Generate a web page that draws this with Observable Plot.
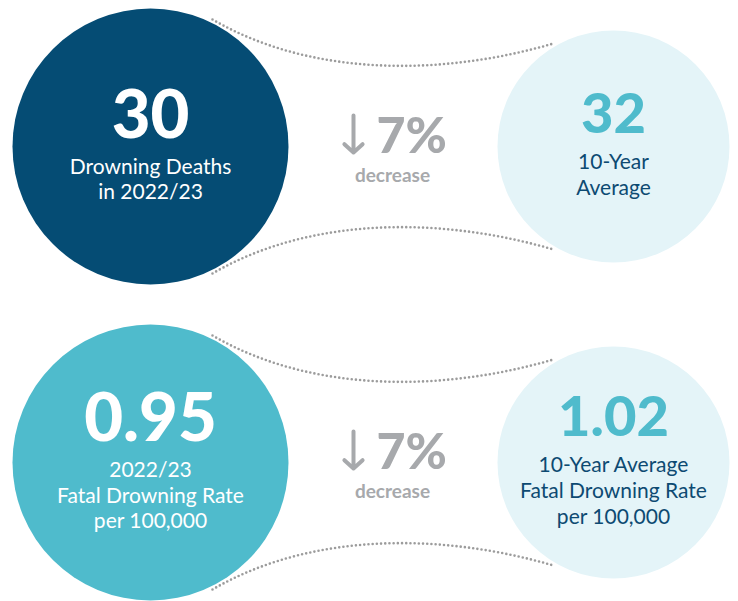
<!DOCTYPE html>
<html>
<head>
<meta charset="utf-8">
<script src="https://cdn.jsdelivr.net/npm/d3@7"></script>
<script src="https://cdn.jsdelivr.net/npm/@observablehq/plot@0.6"></script>
<style>
  html, body { margin: 0; padding: 0; background: #ffffff; }
  #chart svg { display: block; }
</style>
</head>
<body>
<div id="chart"></div>
<script>
// ---- data ----
const metrics = ["Drowning Deaths", "Fatal Drowning Rate"];
const currentValues = ["30", "0.95"];
const currentLabels = [["Drowning Deaths", "in 2022/23"], ["2022/23", "Fatal Drowning Rate", "per 100,000"]];
const averageValues = ["32", "1.02"];
const averageLabels = [["10-Year", "Average"], ["10-Year Average", "Fatal Drowning Rate", "per 100,000"]];
const changeValues = ["7%", "7%"];
const changeWords = ["decrease", "decrease"];

// ---- layout ----
const W = 738, H = 601;
const rowCenters = [146, 462];
const bigX = 150, bigR = 138;
const smallX = 613, smallR = 116;
const midX = 392;
const C = {
  dark: "#054c74", teal: "#4fbbcc", light: "#e4f4f8", gray: "#a7a9ac",
  label: "#0d4a72", dots: "#9c9c9c"
};
const FONT = "Lato, 'Noto Sans', sans-serif";

const rows = metrics.map((m, i) => ({
  metric: m, row: i,
  current: currentValues[i], currentLabels: currentLabels[i],
  average: averageValues[i], averageLabels: averageLabels[i],
  change: changeValues[i], word: changeWords[i]
}));

// text blocks inside circles
const numbers = [], labels = [];
function block(d, cx, value, lines, capNum, numSize, gap, lh, numColor, lblColor) {
  const cy = rowCenters[d.row];
  const n = lines.length;
  const h = capNum + gap + (n - 1) * lh;
  const base = cy - 3 - h / 2 + capNum;
  numbers.push({metric: d.metric, x: cx, y: base, text: value, size: numSize, color: numColor});
  lines.forEach((l, j) => labels.push({metric: d.metric, x: cx, y: base + gap + j * lh, text: l, color: lblColor}));
}
rows.forEach(d => {
  block(d, bigX, d.current, d.currentLabels, 50, 67, 36, 25.5, "#ffffff", "#ffffff");
  block(d, smallX, d.average, d.averageLabels, 41, 56, 35.5, 26, C.teal, C.label);
});

// dotted connectors: cubic bezier between the two circles
const conn = {p0: [212, -127], p1: [310, -70], p2: [440, -70], p3: [553, -103]};
const connectors = [];
rows.forEach(d => {
  const cy = rowCenters[d.row];
  for (const side of [1, -1]) {
    const key = d.metric + (side > 0 ? " top" : " bottom");
    for (let k = 0; k <= 80; k++) {
      const t = k / 80, u = 1 - t;
      const b = [u*u*u, 3*u*u*t, 3*u*t*t, t*t*t];
      const x = b[0]*conn.p0[0] + b[1]*conn.p1[0] + b[2]*conn.p2[0] + b[3]*conn.p3[0];
      const y = b[0]*conn.p0[1] + b[1]*conn.p1[1] + b[2]*conn.p2[1] + b[3]*conn.p3[1];
      connectors.push({key, x, y: cy + side * y});
    }
  }
});

const chart = Plot.plot({
  width: W, height: H,
  margin: 0,
  x: {domain: [0, W], range: [0, W], axis: null},
  y: {domain: [0, H], range: [0, H], axis: null},
  r: {type: "identity"},
  style: {background: "#ffffff", fontFamily: FONT},
  marks: [
    Plot.line(connectors, {x: "x", y: "y", z: "key", stroke: C.dots, strokeWidth: 2.6,
      strokeDasharray: "0 4.2", strokeLinecap: "round"}),
    Plot.dot(rows, {x: () => bigX, y: d => rowCenters[d.row], r: () => bigR,
      fill: d => d.row === 0 ? C.dark : C.teal, stroke: null}),
    Plot.dot(rows, {x: () => smallX, y: d => rowCenters[d.row], r: () => smallR,
      fill: C.light, stroke: null}),
    Plot.text(numbers, {x: "x", y: "y", text: "text", fontSize: "size", fill: "color",
      fontWeight: 900, fontFamily: FONT, lineAnchor: "bottom"}),
    Plot.text(labels, {x: "x", y: "y", text: "text", fontSize: 21, fill: "color",
      fontWeight: 400, fontFamily: FONT, lineAnchor: "bottom"}),
    Plot.arrow(rows, {x1: () => midX - 39, x2: () => midX - 39,
      y1: d => rowCenters[d.row] - 31, y2: d => rowCenters[d.row] + 6,
      stroke: C.gray, strokeWidth: 4, headAngle: 95, headLength: 6,
      strokeLinecap: "round", strokeLinejoin: "round"}),
    Plot.text(rows, {x: () => midX - 16, y: d => rowCenters[d.row] + 6, text: "change",
      fontSize: 50, fontWeight: 900, fill: C.gray, textAnchor: "start", fontFamily: FONT,
      lineAnchor: "bottom"}),
    Plot.text(rows, {x: () => midX, y: d => rowCenters[d.row] + 35.5, text: "word",
      fontSize: 19, fontWeight: 700, fill: C.gray, fontFamily: FONT, lineAnchor: "bottom"})
  ]
});
document.getElementById("chart").appendChild(chart);
</script>
</body>
</html>
